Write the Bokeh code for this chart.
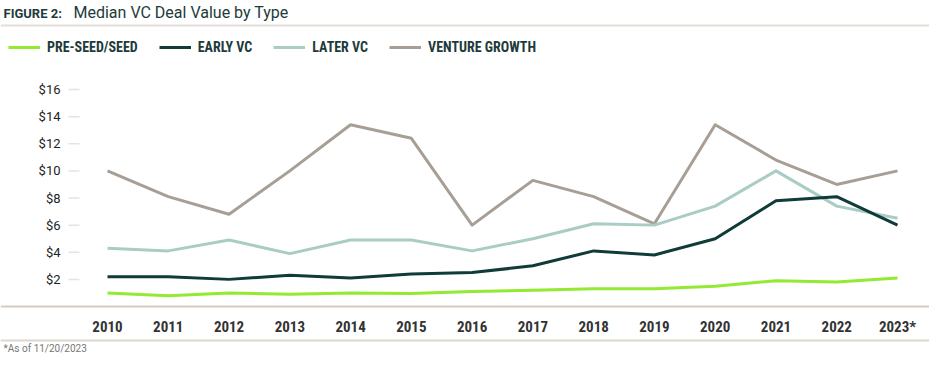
from bokeh.plotting import figure
from bokeh.models import Range1d, Legend, LegendItem
from bokeh.core.properties import value
from bokeh.embed import file_html
from bokeh.resources import INLINE

# ---------------- data ----------------
years = [2010, 2011, 2012, 2013, 2014, 2015, 2016, 2017, 2018, 2019, 2020, 2021, 2022, 2023]
year_labels = ["2010", "2011", "2012", "2013", "2014", "2015", "2016", "2017", "2018", "2019",
               "2020", "2021", "2022", "2023*"]
pre_seed = [1.0, 0.8, 1.0, 0.9, 1.0, 0.95, 1.1, 1.2, 1.3, 1.3, 1.5, 1.9, 1.8, 2.1]
early_vc = [2.2, 2.2, 2.0, 2.3, 2.1, 2.4, 2.5, 3.0, 4.1, 3.8, 5.0, 7.8, 8.1, 6.0]
later_vc = [4.3, 4.1, 4.9, 3.9, 4.9, 4.9, 4.1, 5.0, 6.1, 6.0, 7.4, 10.0, 7.4, 6.5]
venture_growth = [10.0, 8.1, 6.8, 10.0, 13.4, 12.4, 6.0, 9.3, 8.1, 6.1, 13.4, 10.8, 9.0, 10.0]
y_ticks = [2, 4, 6, 8, 10, 12, 14, 16]
y_tick_labels = ["$" + str(t) for t in y_ticks]
series_names = ["PRE-SEED/SEED", "EARLY VC", "LATER VC", "VENTURE GROWTH"]
series_colors = ["#92EA32", "#0F3B38", "#A9CCC5", "#A79F95"]

# ---------------- layout (picture pixels) ----------------
W, H = 929, 354
PX_2010, PX_2023 = 107, 897
PY_0, PY_16 = 306, 89
ppx = (PX_2023 - PX_2010) / (years[-1] - years[0])
ppy = (PY_0 - PY_16) / 16.0
x_start = years[0] - PX_2010 / ppx
x_end = x_start + W / ppx
y_start = -(H - PY_0) / ppy
y_end = y_start + H / ppy


def dx(px):
    return x_start + px / ppx


def dy(py):
    return (PY_0 - py) / ppy


p = figure(width=W, height=H, output_backend="svg", toolbar_location=None,
           x_range=Range1d(x_start, x_end), y_range=Range1d(y_start, y_end),
           min_border=0, min_border_left=0, min_border_right=0,
           min_border_top=0, min_border_bottom=0)
p.axis.visible = False
p.grid.visible = False
p.outline_line_color = None
p.background_fill_color = "white"
p.border_fill_color = "white"

COND = "Roboto Condensed, Open Sans Condensed, Roboto"
SANS = "Roboto"

# rules
p.segment(x0=[dx(0)] * 3, x1=[dx(930)] * 3, y0=[dy(25), dy(306), dy(340)], y1=[dy(25), dy(306), dy(340)],
          line_color=["#E2DFD8", "#D3CCC1", "#DDD8CF"], line_width=[2, 2, 2])

# title
p.text(x=[dx(3)], y=[dy(13)], text=["FIGURE 2:"], text_font=value(SANS), text_font_style="bold",
       text_font_size="13px", text_color="#1D3B39", text_baseline="middle", text_align="left")
p.text(x=[dx(73)], y=[dy(12)], text=["Median VC Deal Value by Type"], text_font=value(SANS),
       text_font_size="16px", text_color="#1D3B39", text_baseline="middle", text_align="left")

# y tick labels and stubs
p.segment(x0=[dx(68)] * len(y_ticks), x1=[dx(79)] * len(y_ticks), y0=y_ticks, y1=y_ticks,
          line_color="#E3E3E0", line_width=1.5)
p.text(x=[dx(60)] * len(y_ticks), y=y_ticks, text=y_tick_labels, text_font=value(SANS),
       text_font_size="13px", text_color="#222222", text_align="right", text_baseline="middle")

# x tick labels
p.text(x=years, y=[dy(326)] * len(years), text=year_labels, text_font=value(COND), text_font_style="bold",
       text_font_size="15px", text_color="#333333", text_align="center", text_baseline="middle")

# footnote
p.text(x=[dx(3)], y=[dy(348)], text=["*As of 11/20/2023"], text_font=value(SANS),
       text_font_size="10px", text_color="#777777", text_align="left", text_baseline="middle")

# series lines
renderers = {}
for name, ys, col in [("VENTURE GROWTH", venture_growth, series_colors[3]),
                      ("LATER VC", later_vc, series_colors[2]),
                      ("EARLY VC", early_vc, series_colors[1]),
                      ("PRE-SEED/SEED", pre_seed, series_colors[0])]:
    renderers[name] = p.line(years, ys, line_color=col, line_width=3, line_join="round")

legend = Legend(items=[LegendItem(label=n, renderers=[renderers[n]]) for n in series_names],
                orientation="horizontal", location=(8, H - 57),
                margin=0, padding=0, spacing=21, glyph_width=32, glyph_height=20,
                label_height=20, label_standoff=7,
                label_text_font=COND, label_text_font_style="bold", label_text_font_size="14px",
                label_text_color="#1D3B39", background_fill_alpha=0, border_line_color=None)
p.add_layout(legend)

open("out.html", "w").write(file_html(p, INLINE))
